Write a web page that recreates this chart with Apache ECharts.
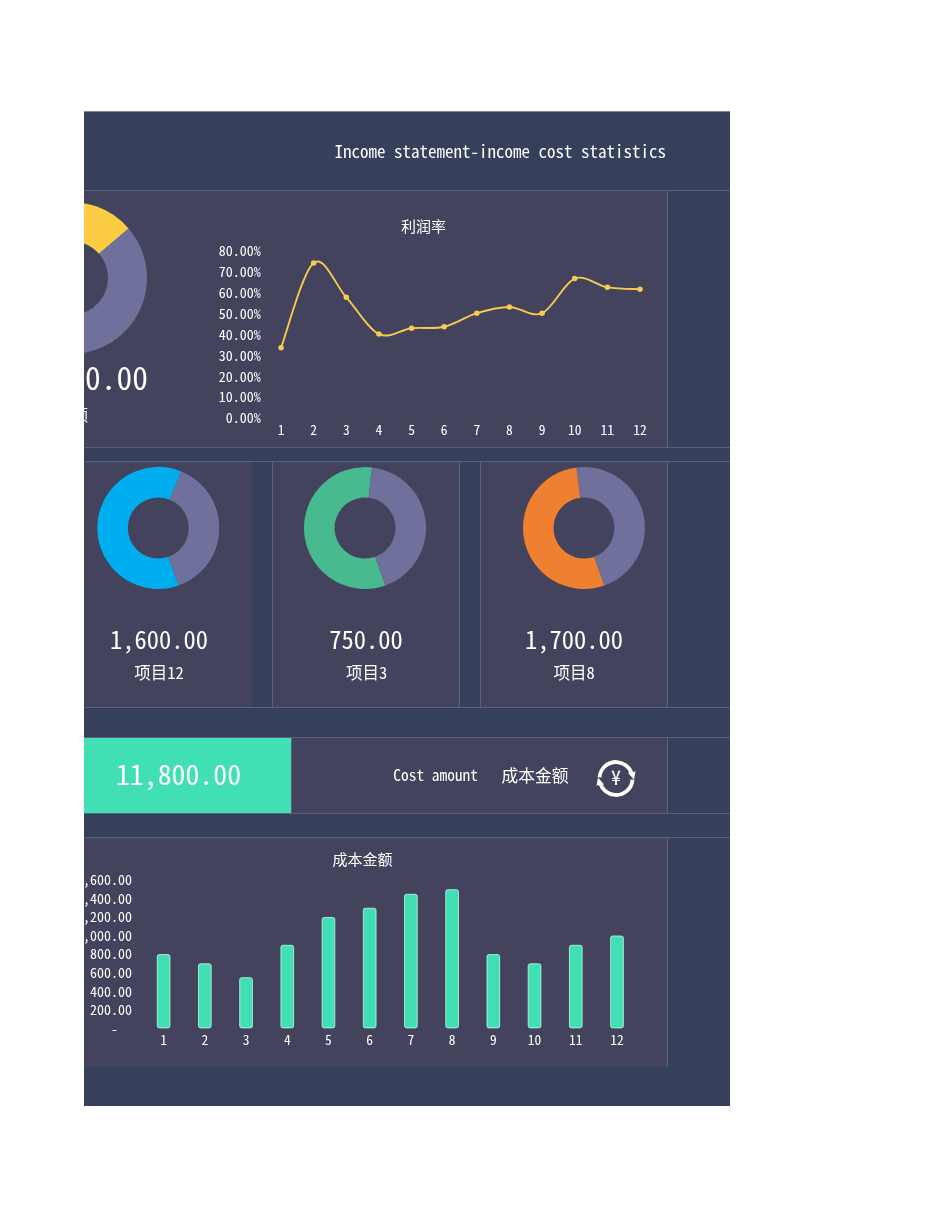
<!DOCTYPE html>
<html><head><meta charset="utf-8">
<style>
html,body{margin:0;padding:0;background:#fff;width:950px;height:1230px;overflow:hidden}
#clip{position:absolute;left:84px;top:111px;width:646px;height:995px;overflow:hidden}
#main{position:absolute;left:-84px;top:-111px;width:950px;height:1230px}
</style>
<script src="https://cdn.jsdelivr.net/npm/echarts@6/dist/echarts.min.js"></script>
</head><body>
<div id="clip"><div id="main"></div></div>
<script>
const months = ['1','2','3','4','5','6','7','8','9','10','11','12'];
const profitRate = [33.6,74.3,57.8,40.2,43.0,43.7,50.2,53.2,50.2,66.8,62.6,61.7];
const costAmount = [800,700,550,900,1200,1300,1450,1500,800,700,900,1000];
const incomePie = [23600,17000];
const project12Pie = [1600,1000];
const project3Pie = [750,560];
const project8Pie = [1700,1480];

const BG='#37405A', PANEL='#44435D', LINE='#5A6082', PURPLE='#6F709C', WHITE='#FFFFFF', GOLD='#F7CB4F';
const MONO='"Noto Sans Mono CJK SC","Noto Sans CJK SC",monospace';

function rect(x,y,w,h,fill){return {type:'rect',z:-5,shape:{x,y,width:w,height:h},style:{fill}};}
function hline(y,x1,x2,c){return {type:'line',z:-4,shape:{x1,y1:y,x2,y2:y},style:{stroke:c||LINE,lineWidth:1}};}
function vline(x,y1,y2){return {type:'line',z:-4,shape:{x1:x,y1,x2:x,y2},style:{stroke:LINE,lineWidth:1}};}
function txt(t,x,y,size,align){return {type:'text',z:5,x,y,style:{text:t,fill:WHITE,font:size+'px '+MONO,textAlign:align||'center',textVerticalAlign:'middle'}};}
function pie(cx,cy,r0,r,data,colors,start){
  return {type:'pie',center:[cx,cy],radius:[r0,r],startAngle:start,clockwise:true,silent:true,animation:false,
    label:{show:false},labelLine:{show:false},
    data:data.map((v,i)=>({value:v,itemStyle:{color:colors[i]}}))};
}
const icon=[
  {type:'arc',z:5,shape:{cx:616,cy:778.5,r:16.5,startAngle:-Math.PI*0.98,endAngle:-Math.PI*0.1,clockwise:true},style:{fill:null,stroke:WHITE,lineWidth:3.8}},
  {type:'arc',z:5,shape:{cx:616,cy:778.5,r:16.5,startAngle:Math.PI*0.02,endAngle:Math.PI*0.9,clockwise:true},style:{fill:null,stroke:WHITE,lineWidth:3.8}},
  {type:'polygon',z:5,shape:{points:[[628,773],[635.5,771.5],[634,779.5]]},style:{fill:WHITE}},
  {type:'polygon',z:5,shape:{points:[[604,784.5],[596.5,785.5],[598,777.5]]},style:{fill:WHITE}},
  txt('¥',616,777,20)
];
const graphic=[
  rect(0,112,950,994,BG),
  rect(84,191,583,256,PANEL),
  rect(84,461,168,246,PANEL),
  rect(272,461,187,246,PANEL),
  rect(480,461,187,246,PANEL),
  rect(291,737,376,76,PANEL),
  rect(84,737,207,76,'#40E0B4'),
  rect(84,837,583,230,PANEL),
  hline(111.5,84,730,'#7F869C'),
  hline(190.5,84,730),hline(447.5,84,730),hline(461.5,84,730),hline(707.5,84,730),
  hline(737.5,84,730),hline(813.5,84,730),hline(837.5,84,730),
  vline(667.5,191,447),vline(272.5,461,707),vline(459.5,461,707),vline(480.5,461,707),vline(667.5,461,707),
  vline(667.5,737,813),vline(291.5,737,813),vline(667.5,837,1067),
  txt('Income statement-income cost statistics',666,152,17,'right'),
  txt('利润率',423.5,226,15),
  txt('成本金额',362.5,859,15),
  txt('23,600.00',148,378,31.5,'right'),
  txt('收入金额',88,415,16,'right'),
  txt('1,600.00',159,639.5,24.5),
  txt('750.00',366,639.5,24.5),
  txt('1,700.00',574,639.5,24.5),
  txt('项目12',159,673,16.5),
  txt('项目3',366.5,673,16.5),
  txt('项目8',574,673,16.5),
  txt('11,800.00',178.5,774.5,27.8),
  txt('Cost amount',478,775,15.4,'right'),
  txt('成本金额',535,775.5,16.8)
].concat(icon);

const chart=echarts.init(document.getElementById('main'),null,{renderer:'canvas'});
chart.setOption({
  animation:false,
  backgroundColor:'transparent',
  graphic:{elements:graphic},
  grid:[
    {left:264.7,top:251,width:391.6,height:167,containLabel:false},
    {left:143,top:880,width:494.6,height:148.3,containLabel:false}
  ],
  xAxis:[
    {type:'category',gridIndex:0,data:months,axisLine:{show:false},axisTick:{show:false},
      axisLabel:{color:WHITE,fontSize:13.5,fontFamily:MONO,margin:5,interval:0}},
    {type:'category',gridIndex:1,data:months,axisLine:{show:false},axisTick:{show:false},
      axisLabel:{color:WHITE,fontSize:13.5,fontFamily:MONO,margin:5,interval:0}}
  ],
  yAxis:[
    {type:'value',gridIndex:0,min:0,max:80,interval:10,axisLine:{show:false},axisTick:{show:false},splitLine:{show:false},
      axisLabel:{color:WHITE,fontSize:14,fontFamily:MONO,margin:4,padding:[0,0,2,0],formatter:v=>v.toFixed(2)+'%'}},
    {type:'value',gridIndex:1,min:0,max:1600,interval:200,axisLine:{show:false},axisTick:{show:false},splitLine:{show:false},
      axisLabel:{color:WHITE,fontSize:14,fontFamily:MONO,margin:11,padding:[0,0,2,0],
        formatter:v=>v===0?'-  ':v.toLocaleString('en-US',{minimumFractionDigits:2,maximumFractionDigits:2})}}
  ],
  series:[
    pie(71,278,37,76,incomePie,['#FCCD44',PURPLE],-110),
    pie(158.3,528,30.5,61,project12Pie,['#00AEEF',PURPLE],-70.5),
    pie(365,528,30.5,61,project3Pie,['#48BA90',PURPLE],-70.5),
    pie(584,528,30.5,61,project8Pie,['#EF7F31',PURPLE],-70.5),
    {type:'custom',xAxisIndex:0,yAxisIndex:0,silent:true,clip:false,
      data:profitRate.map((v,i)=>[i,v]),encode:{x:0,y:1},
      renderItem:function(params,api){
        const i=params.dataIndex, n=profitRate.length;
        if(i>=n-1) return null;
        const p=k=>api.coord([Math.max(0,Math.min(n-1,k)),profitRate[Math.max(0,Math.min(n-1,k))]]);
        const p0=p(i-1),p1=p(i),p2=p(i+1),p3=p(i+2);
        const c1=[p1[0]+(p2[0]-p0[0])/6,p1[1]+(p2[1]-p0[1])/6];
        const c2=[p2[0]-(p3[0]-p1[0])/6,p2[1]-(p3[1]-p1[1])/6];
        return {type:'path',shape:{pathData:`M${p1[0]} ${p1[1]}C${c1[0]} ${c1[1]} ${c2[0]} ${c2[1]} ${p2[0]} ${p2[1]}`},
          style:{fill:'none',stroke:GOLD,lineWidth:1.9}};
      }},
    {type:'line',xAxisIndex:0,yAxisIndex:0,data:profitRate,symbol:'circle',symbolSize:5.5,
      lineStyle:{opacity:0},itemStyle:{color:GOLD},silent:true},
    {type:'bar',xAxisIndex:1,yAxisIndex:1,data:costAmount,barWidth:13.5,silent:true,
      itemStyle:{color:'#40E0B4',borderColor:'#C8F5E8',borderWidth:0.8,borderRadius:2}}
  ]
});
</script>
</body></html>
